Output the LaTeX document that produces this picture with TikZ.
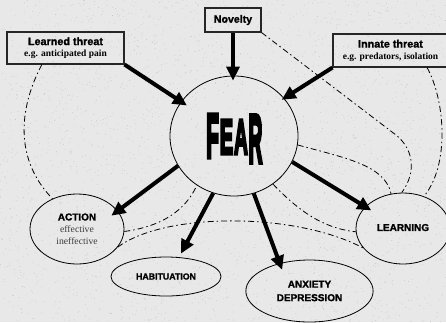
\documentclass[tikz,border=0pt]{standalone}
\usepackage{fontspec}
\setmainfont{Liberation Serif}
\newfontfamily\hsans[BoldFeatures={FakeBold=1.5}]{Liberation Sans}
\newfontfamily\fearfont[BoldFeatures={FakeBold=7}]{Liberation Sans}
\usetikzlibrary{arrows.meta,shapes.geometric,calc}
\definecolor{bg}{RGB}{232,232,232}
\definecolor{subgray}{RGB}{60,60,60}
\begin{document}
\begin{tikzpicture}[x=1pt,y=-1pt,
  box/.style={draw=black!85, line width=1.1pt, inner sep=0pt, align=center,
    font=\fontsize{9.5}{11.5}\selectfont},
  oval/.style={ellipse, draw, line width=0.8pt, inner sep=0pt, align=center},
  big/.style={line width=4pt, -{Triangle[length=14pt,width=13pt]}},
  dd/.style={line width=0.8pt, dash pattern=on 6pt off 3pt on 1.5pt off 3pt},
  capsf/.style={font=\hsans\bfseries\fontsize{10}{13.5}\selectfont},
  letter/.style={inner sep=0pt, font=\fearfont\bfseries\fontsize{20}{20}\selectfont},
  grain/.style={fill=black!24},
]
\fill[bg] (0,0) rectangle (446,322);
\useasboundingbox (0,0) rectangle (446,322);
\pgfmathsetseed{7}
\foreach \i in {1,...,3000} {\fill[grain] (446*rnd,322*rnd) circle (0.4pt);}

% boxes
\node[box, minimum width=117pt, minimum height=32pt] (learned) at (65.5,48)
  {{\hsans\bfseries\fontsize{10.8}{12}\selectfont Learned threat}\\
   {\bfseries e.g. anticipated pain}};
\node[box, minimum width=56pt, minimum height=24pt] (novelty) at (233,20)
  {{\hsans\bfseries\fontsize{10.6}{12}\selectfont Novelty}};
\node[box, minimum width=115pt, minimum height=33pt] (innate) at (390.5,50.5)
  {{\hsans\bfseries\fontsize{10.8}{12}\selectfont Innate threat}\\
   {\bfseries e.g. predators, isolation}};

% FEAR circle and word
\node[ellipse, draw, line width=0.8pt, inner sep=0pt, minimum width=128pt, minimum height=120pt] (fear) at (234,136) {};
\node[letter] (fF) at (212.5,136) {\scalebox{1.05}[3.1]{F}};
\node[letter] (fE) at (226.5,137) {\scalebox{1.0}[2.45]{E}};
\node[letter] (fA) at (241,137) {\scalebox{0.95}[2.45]{A}};
\node[letter] (fR) at (255.5,139) {\scalebox{0.95}[3.4]{R}};

% ellipses
\node[oval, minimum width=94pt, minimum height=70pt] (action) at (77,229)
  {\raisebox{2pt}{\parbox{60pt}{\centering {\hsans\bfseries\fontsize{10}{12}\selectfont ACTION}\\[1pt]
   {\color{subgray}\fontsize{9.7}{11}\selectfont effective\\ineffective}}}};
\node[oval, minimum width=110pt, minimum height=39pt, font=\hsans\bfseries\fontsize{8.8}{10}\selectfont] (habit) at (166,276.5) {HABITUATION};
\node[oval, minimum width=121pt, minimum height=62pt, capsf] (anx) at (309.5,291)
  {\raisebox{5pt}{\parbox{90pt}{\centering ANXIETY\\DEPRESSION}}};
\node[oval, minimum width=94pt, minimum height=71pt, capsf] (learn) at (403,228.5) {\raisebox{2pt}{LEARNING}};

% thick arrows
\draw[big, shorten >=-5pt] (novelty.south) -- (novelty.south |- fear.north);
\draw[big, shorten >=-7pt] (learned.south east) -- (fear.147);
\draw[big, shorten >=-3pt] (innate.south west) -- (fear.37);
\draw[big, shorten >=-8pt] (fear.208) -- (action.24);
\draw[big, shorten >=4pt] (fear.250) -- (habit.56);
\draw[big, shorten >=-7pt] (fear.289) -- (anx.137);
\draw[big, shorten >=-7pt] (fear.-24.6) -- (learn.150.6);

% dash-dot links
\draw[dd] (learned.215.4) .. controls (18,110) and (15,160) .. (action.129);
\draw[dd] (novelty.south east) -- (396,135) .. controls (412,148) and (418,170) .. (learn.92);
\draw[dd] (innate.-25) .. controls (445,100) and (450,165) .. (learn.57);
\draw[dd] (fear.-8) .. controls (345,158) and (385,165) .. (learn.109);
\draw[dd] (fear.-51.7) .. controls (295,207) and (320,228) .. (learn.184.8);
\draw[dd] (action.-3.7) .. controls (150,228) and (182,218) .. (fear.233);
\draw[dd] (action.-24.2) .. controls (165,212) and (295,212) .. (learn.206);
\end{tikzpicture}
\end{document}
